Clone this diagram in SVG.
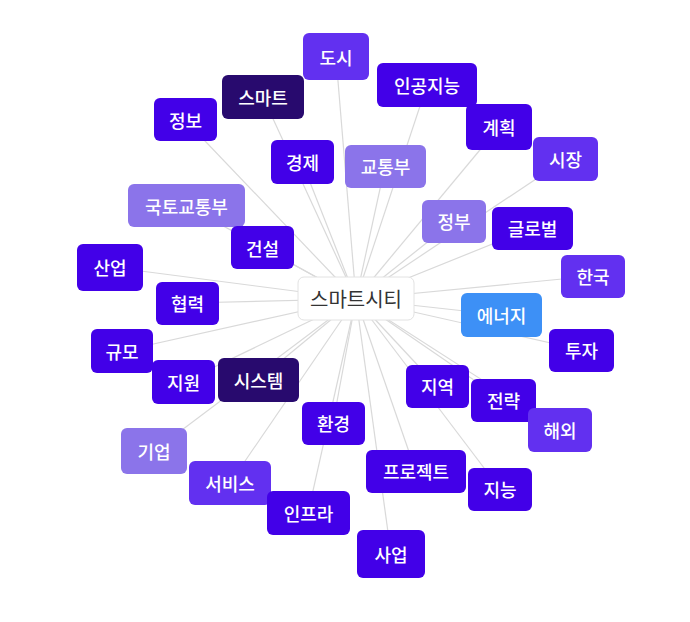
<svg xmlns="http://www.w3.org/2000/svg" width="690" height="622" viewBox="0 0 690 622">
<style>
.e{stroke:#d9d9d9;stroke-width:1.2;fill:none}
.n rect{rx:6;ry:6}
.n text{font-family:"Noto Sans CJK KR","Noto Sans",sans-serif;font-size:18px;font-weight:500;fill:#fff;text-anchor:middle;dominant-baseline:central}
.c1 rect{fill:#4200e8}
.c2 rect{fill:#6230f0}
.c3 rect{fill:#8b74ea}
.c4 rect{fill:#280a6e}
.c5 rect{fill:#3d90f6}
</style>
<rect width="690" height="622" fill="#fff"/>
<g id="edges">
<line class="e" x1="356" y1="299" x2="336" y2="57"/>
<line class="e" x1="356" y1="299" x2="263" y2="97"/>
<line class="e" x1="356" y1="299" x2="185" y2="120"/>
<line class="e" x1="356" y1="299" x2="302" y2="162"/>
<line class="e" x1="356" y1="299" x2="187" y2="206"/>
<line class="e" x1="356" y1="299" x2="262" y2="247"/>
<line class="e" x1="356" y1="299" x2="427" y2="85"/>
<line class="e" x1="356" y1="299" x2="499" y2="127"/>
<line class="e" x1="356" y1="299" x2="566" y2="159"/>
<line class="e" x1="356" y1="299" x2="385" y2="166"/>
<line class="e" x1="356" y1="299" x2="454" y2="221"/>
<line class="e" x1="356" y1="299" x2="532" y2="228"/>
<line class="e" x1="356" y1="299" x2="110" y2="267"/>
<line class="e" x1="356" y1="299" x2="187" y2="303"/>
<line class="e" x1="356" y1="299" x2="122" y2="351"/>
<line class="e" x1="356" y1="299" x2="183" y2="382"/>
<line class="e" x1="356" y1="299" x2="258" y2="380"/>
<line class="e" x1="356" y1="299" x2="593" y2="276"/>
<line class="e" x1="356" y1="299" x2="501" y2="315"/>
<line class="e" x1="356" y1="299" x2="582" y2="350"/>
<line class="e" x1="356" y1="299" x2="437" y2="386"/>
<line class="e" x1="356" y1="299" x2="503" y2="400"/>
<line class="e" x1="356" y1="299" x2="560" y2="430"/>
<line class="e" x1="356" y1="299" x2="333" y2="423"/>
<line class="e" x1="356" y1="299" x2="154" y2="451"/>
<line class="e" x1="356" y1="299" x2="230" y2="483"/>
<line class="e" x1="356" y1="299" x2="308" y2="513"/>
<line class="e" x1="356" y1="299" x2="416" y2="472"/>
<line class="e" x1="356" y1="299" x2="500" y2="489"/>
<line class="e" x1="356" y1="299" x2="391" y2="554"/>
</g>
<g id="n-dosi" class="n c2"><rect x="303" y="33" width="66" height="47"/><text x="336" y="57">도시</text></g>
<g id="n-smart" class="n c4"><rect x="222" y="75" width="82" height="44"/><text x="263" y="97">스마트</text></g>
<g id="n-jeongbo" class="n c1"><rect x="154" y="98" width="63" height="43"/><text x="185.5" y="120">정보</text></g>
<g id="n-gyeongje" class="n c1"><rect x="271" y="140" width="63" height="44"/><text x="302.5" y="162">경제</text></g>
<g id="n-molit" class="n c3"><rect x="128" y="184" width="117" height="43"/><text x="186.5" y="206">국토교통부</text></g>
<g id="n-geonseol" class="n c1"><rect x="231" y="226" width="63" height="43"/><text x="262.5" y="248">건설</text></g>
<g id="n-ai" class="n c1"><rect x="377" y="63" width="100" height="44"/><text x="427" y="85">인공지능</text></g>
<g id="n-plan" class="n c1"><rect x="466" y="104" width="66" height="46"/><text x="499" y="127">계획</text></g>
<g id="n-market" class="n c2"><rect x="533" y="137" width="65" height="44"/><text x="565.5" y="159">시장</text></g>
<g id="n-mot" class="n c3"><rect x="345" y="145" width="81" height="43"/><text x="385.5" y="166">교통부</text></g>
<g id="n-gov" class="n c3"><rect x="422" y="200" width="64" height="43"/><text x="454" y="221">정부</text></g>
<g id="n-global" class="n c1"><rect x="492" y="207" width="81" height="43"/><text x="532.5" y="228">글로벌</text></g>
<g id="n-industry" class="n c1"><rect x="77" y="244" width="66" height="47"/><text x="110" y="267">산업</text></g>
<g id="n-coop" class="n c1"><rect x="156" y="282" width="63" height="43"/><text x="187.5" y="303">협력</text></g>
<g id="n-scale" class="n c1"><rect x="91" y="329" width="62" height="44"/><text x="122" y="351">규모</text></g>
<g id="n-support" class="n c1"><rect x="152" y="360" width="63" height="44"/><text x="183.5" y="382">지원</text></g>
<g id="n-system" class="n c4"><rect x="218" y="358" width="81" height="44"/><text x="258.5" y="380">시스템</text></g>
<g id="n-center"><rect x="298" y="277" width="116" height="43" rx="6" ry="6" fill="#fff" stroke="#e2e2e2" stroke-width="1"/><text x="356" y="298.5" font-family="'Noto Sans CJK KR','Noto Sans',sans-serif" font-size="20" fill="#333" text-anchor="middle" dominant-baseline="central">스마트시티</text></g>
<g id="n-korea" class="n c2"><rect x="561" y="255" width="64" height="43"/><text x="593" y="276">한국</text></g>
<g id="n-energy" class="n c5"><rect x="461" y="293" width="81" height="44"/><text x="501.5" y="315">에너지</text></g>
<g id="n-invest" class="n c1"><rect x="549" y="329" width="65" height="43"/><text x="581.5" y="350">투자</text></g>
<g id="n-region" class="n c1"><rect x="406" y="365" width="63" height="43"/><text x="437.5" y="386">지역</text></g>
<g id="n-strategy" class="n c1"><rect x="471" y="379" width="65" height="43"/><text x="503.5" y="400">전략</text></g>
<g id="n-overseas" class="n c2"><rect x="528" y="408" width="64" height="44"/><text x="560" y="430">해외</text></g>
<g id="n-env" class="n c1"><rect x="302" y="402" width="63" height="43"/><text x="333.5" y="423">환경</text></g>
<g id="n-company" class="n c3"><rect x="121" y="428" width="66" height="46"/><text x="154" y="451">기업</text></g>
<g id="n-service" class="n c2"><rect x="189" y="461" width="82" height="44"/><text x="230" y="483">서비스</text></g>
<g id="n-infra" class="n c1"><rect x="267" y="491" width="83" height="44"/><text x="308.5" y="513">인프라</text></g>
<g id="n-project" class="n c1"><rect x="366" y="450" width="100" height="43"/><text x="416" y="471">프로젝트</text></g>
<g id="n-intel" class="n c1"><rect x="468" y="468" width="64" height="43"/><text x="500" y="489">지능</text></g>
<g id="n-biz" class="n c1"><rect x="357" y="530" width="68" height="48"/><text x="391" y="554">사업</text></g>
</svg>
